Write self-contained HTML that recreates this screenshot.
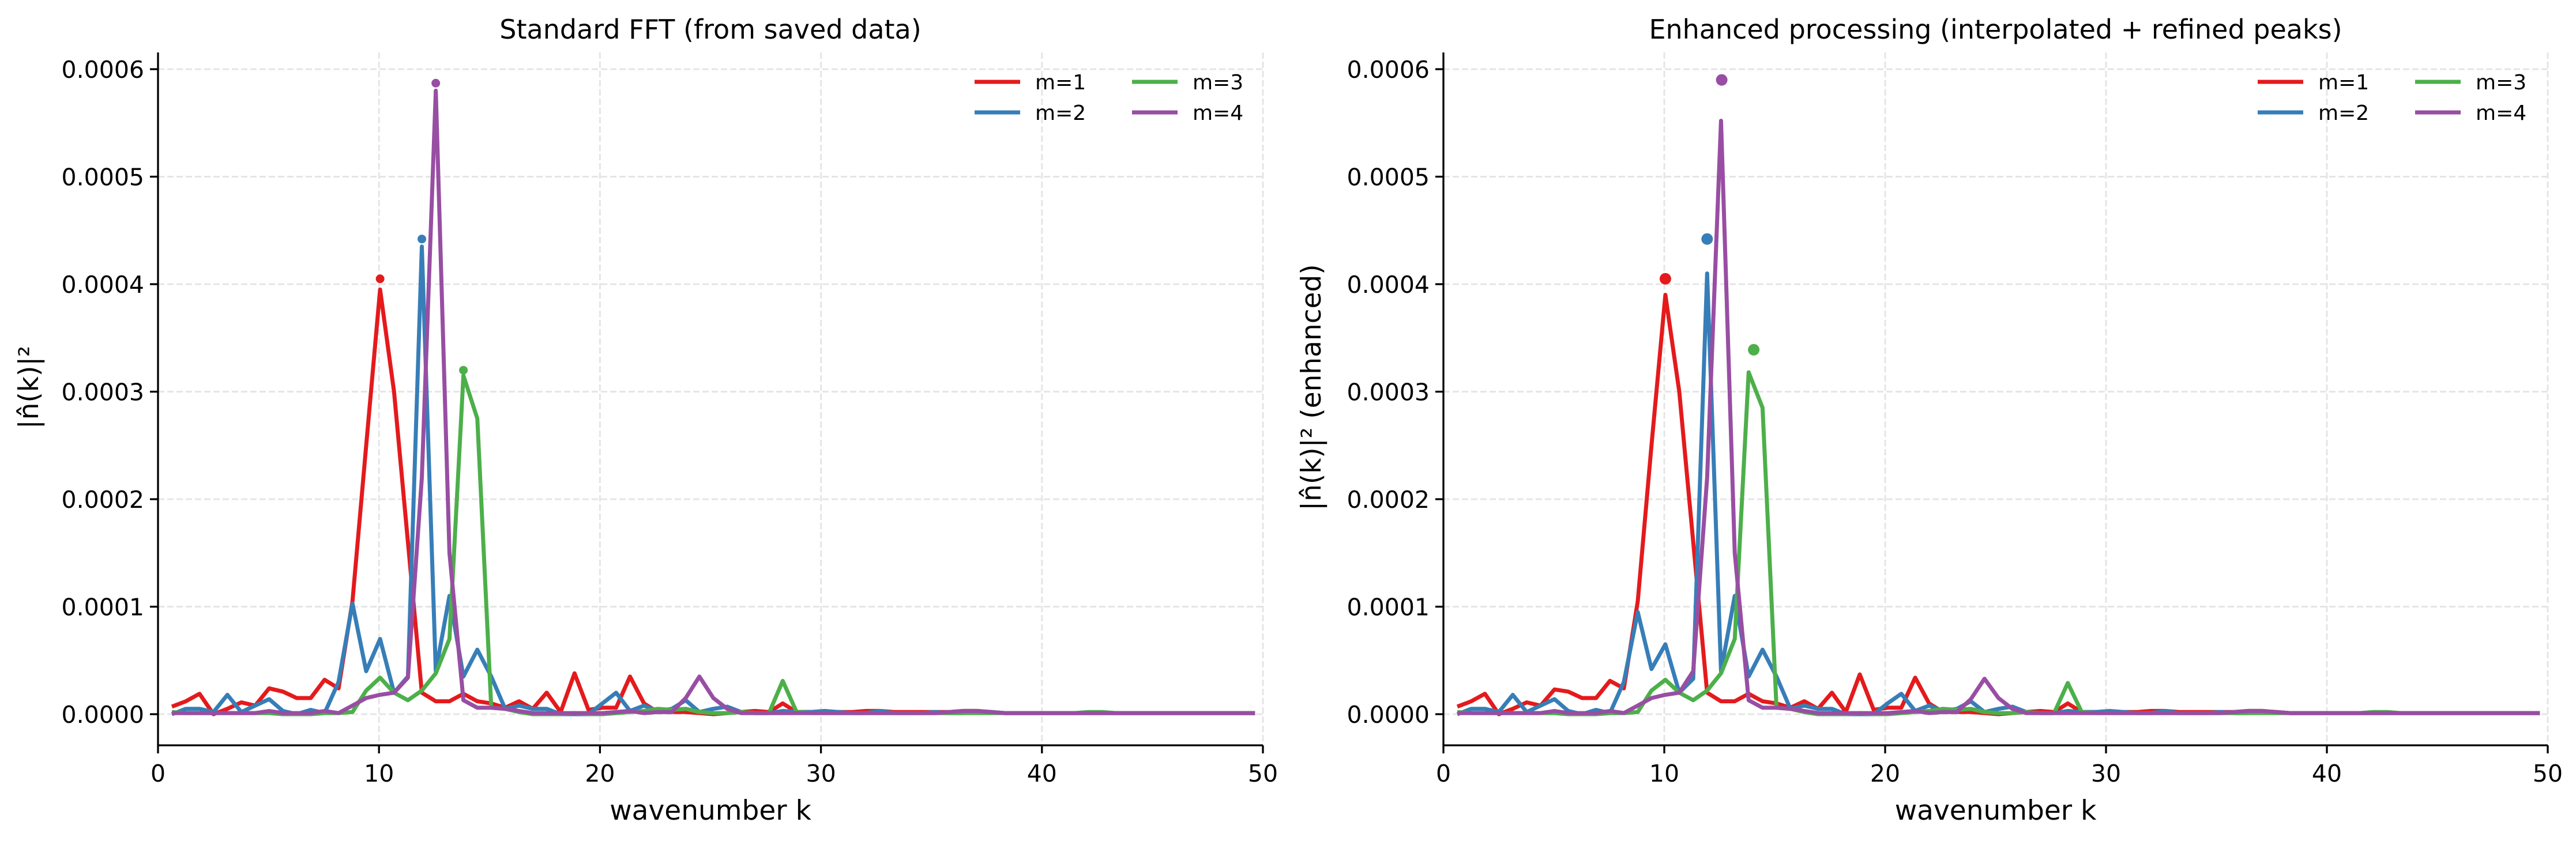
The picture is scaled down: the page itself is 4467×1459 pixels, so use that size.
<!DOCTYPE html>
<html><head><meta charset="utf-8"><style>
html,body{margin:0;padding:0;background:#fff;}
svg{display:block;font-family:"DejaVu Sans","Liberation Sans",sans-serif;}
</style></head><body>
<svg id="fig" width="4467" height="1459" viewBox="0 0 4467 1459" xmlns="http://www.w3.org/2000/svg"></svg>
<script>
const kValues=[0.63,1.26,1.88,2.51,3.14,3.77,4.40,5.03,5.65,6.28,6.91,7.54,8.17,8.80,9.42,10.05,10.68,11.31,11.94,12.57,13.19,13.82,14.45,15.08,15.71,16.34,16.96,17.59,18.22,18.85,19.48,20.11,20.73,21.36,21.99,22.62,23.25,23.88,24.50,25.13,25.76,26.39,27.02,27.65,28.27,28.90,29.53,30.16,30.79,31.42,32.04,32.67,33.30,33.93,34.56,35.19,35.81,36.44,37.07,37.70,38.33,38.96,39.58,40.21,40.84,41.47,42.10,42.73,43.35,43.98,44.61,45.24,45.87,46.50,47.12,47.75,48.38,49.01,49.64];
const seriesLabels=["m=1","m=2","m=3","m=4"];
const stdM1=[0.07,0.12,0.19,0.00,0.05,0.11,0.08,0.24,0.21,0.15, 0.15,0.32,0.24,1.05,2.50,3.95,3.00,1.60,0.20,0.12, 0.12,0.19,0.12,0.10,0.06,0.12,0.05,0.20,0.02,0.38, 0.04,0.06,0.06,0.35,0.10,0.02,0.02,0.02,0.01,0.00, 0.01,0.02,0.03,0.02,0.10,0.02,0.02,0.02,0.02,0.02, 0.03,0.03,0.02,0.02,0.02,0.02,0.02,0.03,0.03,0.02, 0.01,0.01,0.01,0.01,0.01,0.01,0.01,0.01,0.01,0.01, 0.01,0.01,0.01,0.01,0.01,0.01,0.01,0.01,0.01];
const stdM2=[0.00,0.05,0.05,0.02,0.18,0.02,0.08,0.14,0.03,0.00, 0.04,0.01,0.30,1.03,0.40,0.70,0.20,0.35,4.35,0.40, 1.10,0.35,0.60,0.35,0.05,0.08,0.05,0.05,0.00,0.00, 0.00,0.10,0.20,0.03,0.08,0.03,0.05,0.13,0.02,0.05, 0.07,0.02,0.01,0.01,0.03,0.02,0.02,0.03,0.02,0.01, 0.01,0.03,0.01,0.01,0.01,0.02,0.01,0.01,0.02,0.02, 0.01,0.01,0.01,0.01,0.01,0.01,0.01,0.01,0.01,0.01, 0.01,0.01,0.01,0.01,0.01,0.01,0.01,0.01,0.01];
const stdM3=[0.02,0.01,0.01,0.01,0.01,0.01,0.01,0.01,0.00,0.00, 0.00,0.01,0.01,0.02,0.22,0.34,0.20,0.13,0.22,0.38, 0.70,3.15,2.75,0.06,0.05,0.02,0.00,0.00,0.00,0.01, 0.00,0.00,0.01,0.02,0.03,0.05,0.04,0.05,0.02,0.01, 0.01,0.02,0.01,0.01,0.31,0.02,0.01,0.01,0.01,0.01, 0.01,0.01,0.01,0.01,0.01,0.01,0.01,0.01,0.01,0.01, 0.01,0.01,0.01,0.01,0.01,0.01,0.02,0.02,0.01,0.01, 0.01,0.01,0.01,0.01,0.01,0.01,0.01,0.01,0.01];
const stdM4=[0.01,0.01,0.01,0.01,0.01,0.01,0.01,0.03,0.01,0.01, 0.01,0.03,0.01,0.08,0.15,0.18,0.20,0.34,2.20,5.80, 1.50,0.13,0.06,0.06,0.05,0.03,0.01,0.01,0.01,0.01, 0.01,0.01,0.02,0.03,0.01,0.02,0.02,0.15,0.35,0.15, 0.05,0.01,0.01,0.01,0.01,0.01,0.01,0.01,0.01,0.01, 0.01,0.01,0.01,0.01,0.01,0.01,0.02,0.03,0.03,0.02, 0.01,0.01,0.01,0.01,0.01,0.01,0.01,0.01,0.01,0.01, 0.01,0.01,0.01,0.01,0.01,0.01,0.01,0.01,0.01];
const enhM1=[0.07,0.12,0.19,0.00,0.05,0.11,0.08,0.23,0.21,0.15, 0.15,0.31,0.24,1.05,2.50,3.90,3.00,1.60,0.20,0.12, 0.12,0.19,0.12,0.10,0.06,0.12,0.05,0.20,0.02,0.37, 0.04,0.06,0.06,0.34,0.10,0.02,0.02,0.02,0.01,0.00, 0.01,0.02,0.03,0.02,0.10,0.02,0.02,0.02,0.02,0.02, 0.03,0.03,0.02,0.02,0.02,0.02,0.02,0.03,0.03,0.02, 0.01,0.01,0.01,0.01,0.01,0.01,0.01,0.01,0.01,0.01, 0.01,0.01,0.01,0.01,0.01,0.01,0.01,0.01,0.01];
const enhM2=[0.00,0.05,0.05,0.02,0.18,0.02,0.08,0.14,0.03,0.00, 0.04,0.01,0.30,0.95,0.42,0.65,0.20,0.33,4.10,0.40, 1.10,0.35,0.60,0.35,0.05,0.08,0.05,0.05,0.00,0.00, 0.00,0.10,0.19,0.03,0.08,0.03,0.05,0.12,0.02,0.05, 0.07,0.02,0.01,0.01,0.03,0.02,0.02,0.03,0.02,0.01, 0.01,0.03,0.01,0.01,0.01,0.02,0.01,0.01,0.02,0.02, 0.01,0.01,0.01,0.01,0.01,0.01,0.01,0.01,0.01,0.01, 0.01,0.01,0.01,0.01,0.01,0.01,0.01,0.01,0.01];
const enhM3=[0.02,0.01,0.01,0.01,0.01,0.01,0.01,0.01,0.00,0.00, 0.00,0.01,0.01,0.02,0.22,0.32,0.20,0.13,0.22,0.38, 0.70,3.18,2.85,0.06,0.05,0.02,0.00,0.00,0.00,0.01, 0.00,0.00,0.01,0.02,0.03,0.05,0.04,0.05,0.02,0.01, 0.01,0.02,0.01,0.01,0.29,0.02,0.01,0.01,0.01,0.01, 0.01,0.01,0.01,0.01,0.01,0.01,0.01,0.01,0.01,0.01, 0.01,0.01,0.01,0.01,0.01,0.01,0.02,0.02,0.01,0.01, 0.01,0.01,0.01,0.01,0.01,0.01,0.01,0.01,0.01];
const enhM4=[0.01,0.01,0.01,0.01,0.01,0.01,0.01,0.03,0.01,0.01, 0.01,0.03,0.01,0.08,0.15,0.18,0.20,0.40,2.20,5.52, 1.50,0.13,0.06,0.06,0.05,0.03,0.01,0.01,0.01,0.01, 0.01,0.01,0.02,0.03,0.01,0.02,0.02,0.14,0.33,0.15, 0.05,0.01,0.01,0.01,0.01,0.01,0.01,0.01,0.01,0.01, 0.01,0.01,0.01,0.01,0.01,0.01,0.02,0.03,0.03,0.02, 0.01,0.01,0.01,0.01,0.01,0.01,0.01,0.01,0.01,0.01, 0.01,0.01,0.01,0.01,0.01,0.01,0.01,0.01,0.01];
const stdPeakK=[10.05,11.94,13.82,12.57];
const stdPeakV=[4.05,4.42,3.20,5.87];
const enhPeakK=[10.05,11.94,14.05,12.60];
const enhPeakV=[4.05,4.42,3.39,5.90];
const xTicks=[0,10,20,30,40,50];
const yTicks=[0,1,2,3,4,5,6];
const yTickLabels=["0.0000","0.0001","0.0002","0.0003","0.0004","0.0005","0.0006"];

const colors=["#e41a1c","#377eb8","#4daf4a","#984ea3"];
const NS="http://www.w3.org/2000/svg";
const svg=document.getElementById("fig");
function mk(tag,attrs,parent){const e=document.createElementNS(NS,tag);for(const k in attrs)e.setAttribute(k,attrs[k]);(parent||svg).appendChild(e);return e;}

function drawPanel(cfg){
  const g=mk("g",{});
  
  
  const x0=cfg.x0,x1=cfg.x1,yb=1239,unit=186.5,top=91,bottom=1293;
  const sx=v=>x0+(v-0)/(50-0)*(x1-x0);
  const sy=v=>yb-v*unit;
  xTicks.forEach(t=>{const l=mk("line",{x1:sx(t),x2:sx(t),y1:top,y2:bottom,stroke:"#e5e5e5","stroke-width":3,"stroke-dasharray":"11 5"},g);
    });
  yTicks.forEach(t=>{const l=mk("line",{x1:x0,x2:x1,y1:sy(t),y2:sy(t),stroke:"#e5e5e5","stroke-width":3,"stroke-dasharray":"11 5"},g);
    });
  cfg.series.forEach((vals,i)=>{
    const d=vals.map((v,j)=>(j?"L":"M")+sx(kValues[j]).toFixed(1)+","+sy(v).toFixed(1)).join(" ");
    const p=mk("path",{d:d,fill:"none",stroke:colors[i],"stroke-width":7,"stroke-linejoin":"round"},g);
    
    
  });
  cfg.peakK.forEach((k,i)=>{
    const c=mk("circle",{cx:sx(k),cy:sy(cfg.peakV[i]),r:cfg.r,fill:colors[i]},g);
    
    
  });
  const s1=mk("line",{x1:x0,x2:x0,y1:top,y2:bottom,stroke:"#000","stroke-width":3.3},g);
  
  const s2=mk("line",{x1:x0-1.6,x2:x1,y1:bottom,y2:bottom,stroke:"#000","stroke-width":3.3},g);
  
  xTicks.forEach(t=>{
    mk("line",{x1:sx(t),x2:sx(t),y1:bottom,y2:bottom+14,stroke:"#000","stroke-width":3.3},g);
    const tx=mk("text",{x:sx(t),y:1356,"font-size":41,"text-anchor":"middle",fill:"#000"},g);tx.textContent=t;
    
  });
  yTicks.forEach((t,i)=>{
    mk("line",{x1:x0-14,x2:x0,y1:sy(t),y2:sy(t),stroke:"#000","stroke-width":3.3},g);
    const tx=mk("text",{x:x0-24,y:sy(t)+15,"font-size":41,"text-anchor":"end",fill:"#000"},g);tx.textContent=yTickLabels[i];
    
  });
  const ti=mk("text",{x:(x0+x1)/2,y:67,"font-size":46,"text-anchor":"middle",fill:"#000"},g);ti.textContent=cfg.title;
  
  const xl=mk("text",{x:(x0+x1)/2,y:1422,"font-size":47,"text-anchor":"middle",fill:"#000"},g);xl.textContent="wavenumber k";
  
  const yl=mk("text",{x:cfg.ylx,y:(top+bottom)/2-20,"font-size":47,"text-anchor":"middle",fill:"#000",transform:`rotate(-90 ${cfg.ylx} ${(top+bottom)/2-20})`},g);yl.textContent=cfg.ylabel;
  
  const lg=mk("g",{},g);
  
  const cols=[cfg.lx,cfg.lx+273],rows=[142,195];
  [[0,0],[1,0],[2,1],[3,1]].forEach(([i,c])=>{
    const r=i%2;
    const e=mk("g",{},lg);
    
    mk("line",{x1:cols[c],x2:cols[c]+79,y1:rows[r],y2:rows[r],stroke:colors[i],"stroke-width":7},e);
    const t=mk("text",{x:cols[c]+105,y:rows[r]+13,"font-size":36,fill:"#000"},e);t.textContent=seriesLabels[i];
  });
}
drawPanel({name:"standard-fft-chart",x0:274,x1:2190,title:"Standard FFT (from saved data)",ylabel:"|n̂(k)|²",ylx:66,lx:1690,r:7.5,
  series:[stdM1,stdM2,stdM3,stdM4],peakK:stdPeakK,peakV:stdPeakV});
drawPanel({name:"enhanced-processing-chart",x0:2503,x1:4418,title:"Enhanced processing (interpolated + refined peaks)",ylabel:"|n̂(k)|² (enhanced)",ylx:2290,lx:3915,r:10,
  series:[enhM1,enhM2,enhM3,enhM4],peakK:enhPeakK,peakV:enhPeakV});
</script>
</body></html>
